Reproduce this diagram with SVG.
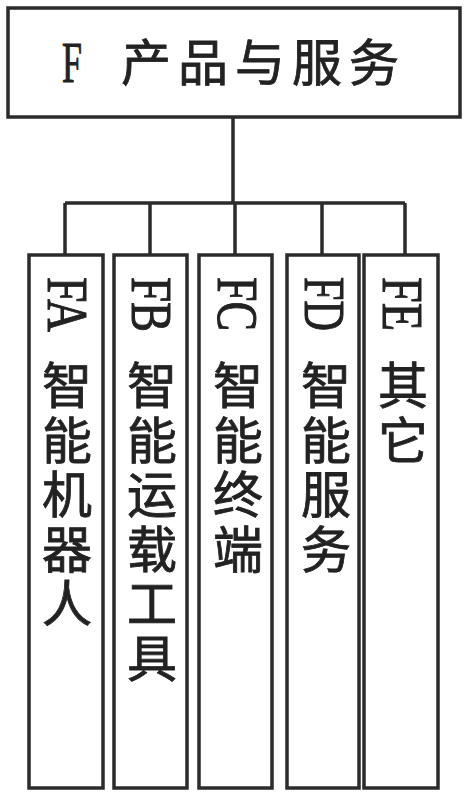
<svg xmlns="http://www.w3.org/2000/svg" width="469" height="800" viewBox="0 0 469 800">
<style>
.box{fill:#fff;stroke:#2b2b2b;stroke-width:3.5}
.ln{fill:none;stroke:#2b2b2b;stroke-width:3.5}
.lat{font-family:"Liberation Serif",serif;fill:#222;stroke:#222;stroke-width:1}
.cjk{font-family:"Noto Sans CJK SC",sans-serif;fill:#222;stroke:#222;stroke-width:0.8}
.vc{font-family:"Noto Sans CJK SC",sans-serif;fill:#222;stroke:#222;stroke-width:0.8;font-size:50px;writing-mode:vertical-rl;letter-spacing:4.5px}
</style>
<rect width="469" height="800" fill="#fff"/>
<g id="connectors">
<path class="ln" d="M233,117 V203 M65,203 H405 M65,203 V255 M150,203 V255 M235,203 V255 M322,203 V255 M405,203 V255"/>
</g>
<g id="F">
<rect class="box" x="8" y="8" width="452" height="109"/>
<text class="lat" x="62" y="82" font-size="56" textLength="20" lengthAdjust="spacingAndGlyphs">F</text>
<text class="cjk" x="121" y="81" font-size="50" letter-spacing="7">产品与服务</text>
</g>
<g id="FA">
<rect class="box" x="29" y="255" width="74" height="533"/>
<text class="lat" transform="translate(48,277) rotate(90)" font-size="58" textLength="55" lengthAdjust="spacingAndGlyphs">FA</text>
<text class="vc" x="67" y="360">智能机器人</text>
</g>
<g id="FB">
<rect class="box" x="114" y="255" width="73" height="533"/>
<text class="lat" transform="translate(132,277) rotate(90)" font-size="58" textLength="55" lengthAdjust="spacingAndGlyphs">FB</text>
<text class="vc" x="152" y="360">智能运载工具</text>
</g>
<g id="FC">
<rect class="box" x="199" y="255" width="73" height="533"/>
<text class="lat" transform="translate(218,277) rotate(90)" font-size="58" textLength="54" lengthAdjust="spacingAndGlyphs">FC</text>
<text class="vc" x="238" y="360">智能终端</text>
</g>
<g id="FD">
<rect class="box" x="287" y="255" width="72" height="533"/>
<text class="lat" transform="translate(305,277) rotate(90)" font-size="58" textLength="54" lengthAdjust="spacingAndGlyphs">FD</text>
<text class="vc" x="326" y="360">智能服务</text>
</g>
<g id="FE">
<rect class="box" x="364" y="255" width="74" height="533"/>
<text class="lat" transform="translate(383,277) rotate(90)" font-size="58" textLength="54" lengthAdjust="spacingAndGlyphs">FE</text>
<text class="vc" x="403" y="360">其它</text>
</g>
</svg>
